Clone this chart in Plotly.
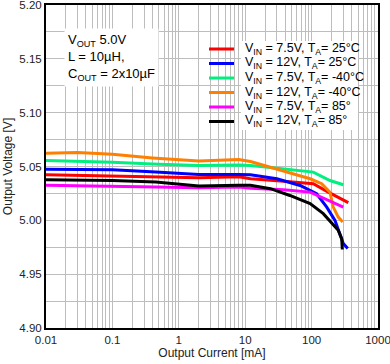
import plotly.graph_objects as go

# ---- data (output current in mA, output voltage in V) ----
red_i = [0.01, 0.1, 0.45, 2, 8, 12, 38, 106, 178, 268, 357]
red_v = [5.0423, 5.0410, 5.0400, 5.0395, 5.0405, 5.0386, 5.0364, 5.0340, 5.0262, 5.0200, 5.0164]

blue_i = [0.01, 0.1, 0.45, 2, 8, 12, 30, 67, 119, 169, 225, 261, 300, 350]
blue_v = [5.0475, 5.0470, 5.0450, 5.0426, 5.0426, 5.0423, 5.0386, 5.0324, 5.0247, 5.0123, 4.9999, 4.9877, 4.9784, 4.9738]

green_i = [0.01, 0.1, 0.5, 2, 8, 12, 24, 38, 106, 189, 300]
green_v = [5.0556, 5.0540, 5.0520, 5.0510, 5.0515, 5.0509, 5.0490, 5.0479, 5.0448, 5.0370, 5.0330]

orange_i = [0.01, 0.03, 0.1, 0.4, 2, 8, 12, 24, 47, 95, 142, 189, 212, 252, 294]
orange_v = [5.0623, 5.0630, 5.0614, 5.0580, 5.0550, 5.0565, 5.0546, 5.0494, 5.0438, 5.0386, 5.0340, 5.0262, 5.0123, 5.0030, 4.9984]

magenta_i = [0.01, 0.1, 0.45, 2, 8, 12, 38, 95, 142, 300]
magenta_v = [5.0327, 5.0320, 5.0310, 5.0303, 5.0309, 5.0299, 5.0284, 5.0262, 5.0216, 5.0123]

black_i = [0.01, 0.1, 0.45, 2, 8, 12, 24, 47, 95, 150, 252, 284, 290]
black_v = [5.0377, 5.0370, 5.0355, 5.0318, 5.0325, 5.0325, 5.0294, 5.0231, 5.0155, 5.0062, 4.9907, 4.9830, 4.9729]

series_names = [
    "V<sub>IN</sub> = 7.5V, T<sub>A</sub>= 25°C",
    "V<sub>IN</sub> = 12V, T<sub>A</sub>= 25°C",
    "V<sub>IN</sub> = 7.5V, T<sub>A</sub>= -40°C",
    "V<sub>IN</sub> = 12V, T<sub>A</sub>= -40°C",
    "V<sub>IN</sub> = 7.5V, T<sub>A</sub>= 85°",
    "V<sub>IN</sub> = 12V, T<sub>A</sub>= 85°",
]
series_colors = ["#ff0000", "#0000ff", "#00f080", "#ff8000", "#ff00ff", "#000000"]
series_data = [(red_i, red_v), (blue_i, blue_v), (green_i, green_v),
               (orange_i, orange_v), (magenta_i, magenta_v), (black_i, black_v)]

x_tickvals = [0.01, 0.1, 1, 10, 100, 1000]
x_ticktext = ["0.01", "0.1", "1", "10", "100", "1000"]

note_text = "V<sub>OUT</sub> 5.0V<br>L = 10µH,<br>C<sub>OUT</sub> = 2x10µF"

# ---- layout geometry ----
W, H = 390, 364
ML, MR, MT, MB = 46, 12, 5, 36
PW, PH = W - ML - MR, H - MT - MB

def px(x):
    return (x - ML) / PW

def py(y):
    return (H - MB - y) / PH

fig = go.Figure()
for (xi, yv), name, col in zip(series_data, series_names, series_colors):
    fig.add_trace(go.Scatter(x=xi, y=yv, mode="lines", name=name,
                             line=dict(color=col, width=3), showlegend=False))

FONT = "Liberation Sans, Arial, sans-serif"
shapes = []
annotations = []

# legend (manual) : white box behind the text, sample lines, text
shapes.append(dict(type="rect", xref="paper", yref="paper",
                   x0=px(241), x1=px(358), y0=py(130), y1=py(41),
                   fillcolor="white", line=dict(width=0), layer="above"))
row0, step = 49, 14.5
for k, (name, col) in enumerate(zip(series_names, series_colors)):
    yy = row0 + k * step
    shapes.append(dict(type="line", xref="paper", yref="paper",
                       x0=px(209), x1=px(234), y0=py(yy), y1=py(yy),
                       line=dict(color=col, width=3), layer="above"))
    annotations.append(dict(xref="paper", yref="paper", x=px(243), y=py(yy),
                            xanchor="left", yanchor="middle", text=name,
                            showarrow=False, font=dict(size=12.5, color="#000", family=FONT)))

annotations.append(dict(xref="paper", yref="paper", x=px(64), y=py(28),
                        xanchor="left", yanchor="top", align="left", text=note_text,
                        showarrow=False, bgcolor="white", borderpad=3,
                        font=dict(size=13, color="#000", family=FONT)))

fig.update_layout(
    width=W, height=H,
    margin=dict(l=ML, r=MR, t=MT, b=MB),
    paper_bgcolor="white", plot_bgcolor="white",
    font=dict(family=FONT, size=12, color="#222"),
    shapes=shapes, annotations=annotations,
    showlegend=False,
)
fig.update_xaxes(
    type="log", range=[-2, 3],
    tickvals=x_tickvals, ticktext=x_ticktext,
    showgrid=True, gridcolor="#bdbdbd", gridwidth=1,
    minor=dict(dtick="D1", showgrid=True, gridcolor="#bdbdbd", gridwidth=1),
    showline=True, linecolor="#000", linewidth=2, mirror=True,
    ticks="", zeroline=False, automargin=False, ticklabeloverflow="allow",
    title=dict(text="Output Current [mA]", font=dict(size=12, color="#222"), standoff=4),
    tickfont=dict(size=11.5, color="#222"),
)
fig.update_yaxes(
    range=[4.90, 5.20], dtick=0.05, tick0=4.90, tickformat=".2f",
    showgrid=True, gridcolor="#bdbdbd", gridwidth=1,
    minor=dict(dtick=0.025, showgrid=True, gridcolor="#bdbdbd", gridwidth=1),
    showline=True, linecolor="#000", linewidth=2, mirror=True,
    ticks="", zeroline=False, automargin=False, ticklabeloverflow="allow",
    title=dict(text="Output Voltage [V]", font=dict(size=12, color="#222"), standoff=4),
    tickfont=dict(size=11.5, color="#222"),
)

fig.write_html("out.html", config={"displayModeBar": False},
               post_script="document.body.style.margin='0px';")
